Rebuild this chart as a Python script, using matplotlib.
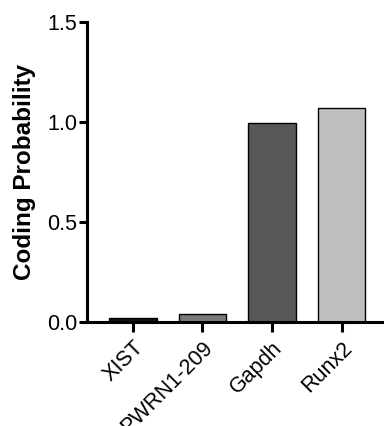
import numpy as np
import matplotlib.pyplot as plt

plt.rcParams['font.family'] = ['Liberation Sans', 'DejaVu Sans']

genes = ['XIST', 'PWRN1-209', 'Gapdh', 'Runx2']
coding_prob = [0.018, 0.04, 0.993, 1.07]
bar_colors = ['#141414', '#7b7b7b', '#585858', '#bebebe']

fig = plt.figure(figsize=(3.84, 4.26), dpi=100)
ax = fig.add_axes([0.2266, 0.2441, 0.7734, 0.7043])

x = np.arange(len(genes))
ax.bar(x, coding_prob, width=0.68, color=bar_colors, edgecolor='black', linewidth=1.0)

ax.set_xlim(-0.66, 3.61)
ax.set_ylim(0, 1.5)
ax.set_yticks([0.0, 0.5, 1.0, 1.5])
ax.set_yticklabels(['0.0', '0.5', '1.0', '1.5'])
ax.set_xticks(x)
ax.set_xticklabels(genes, rotation=45, ha='right', rotation_mode='anchor')

ax.spines['top'].set_visible(False)
ax.spines['right'].set_visible(False)
ax.spines['left'].set_linewidth(2.2)
ax.spines['bottom'].set_linewidth(2.2)
ax.tick_params(axis='both', width=2.2, length=6, labelsize=15.5, pad=1)
ax.tick_params(axis='x', length=7, pad=4)

ax.set_ylabel('Coding Probability', fontsize=17.5, fontweight='bold', labelpad=8)

fig.savefig('out.png', dpi=100)
